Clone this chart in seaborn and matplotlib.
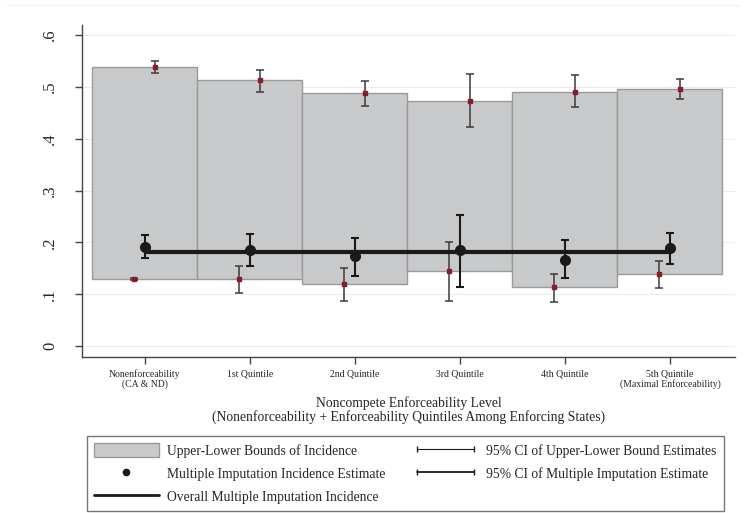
import numpy as np
import pandas as pd
import matplotlib
matplotlib.use("Agg")
import matplotlib.pyplot as plt
import seaborn as sns
from matplotlib.lines import Line2D
from matplotlib.patches import Patch
from matplotlib.legend_handler import HandlerLine2D

# categories on the x axis
categories = ["Nonenforceability\n(CA & ND)", "1st Quintile", "2nd Quintile",
              "3rd Quintile", "4th Quintile", "5th Quintile\n(Maximal Enforceability)"]

# upper / lower bounds of incidence (bar top and bottom)
upper_bound = [0.538, 0.513, 0.488, 0.473, 0.491, 0.495]
lower_bound = [0.129, 0.129, 0.119, 0.144, 0.114, 0.140]
upper_ci_lo = [0.527, 0.490, 0.464, 0.423, 0.461, 0.476]
upper_ci_hi = [0.549, 0.533, 0.512, 0.524, 0.522, 0.516]
lower_ci_lo = [0.127, 0.103, 0.087, 0.088, 0.086, 0.113]
lower_ci_hi = [0.131, 0.155, 0.151, 0.200, 0.139, 0.165]

# multiple imputation estimates
mi_est = [0.192, 0.186, 0.173, 0.185, 0.167, 0.190]
mi_ci_lo = [0.170, 0.155, 0.136, 0.114, 0.131, 0.159]
mi_ci_hi = [0.215, 0.216, 0.209, 0.253, 0.204, 0.219]
overall_mi = 0.181

yticks = [0, 0.1, 0.2, 0.3, 0.4, 0.5, 0.6]
ytick_labels = ["0", ".1", ".2", ".3", ".4", ".5", ".6"]

sns.set_style("white")
plt.rcParams["font.family"] = ["Liberation Serif", "DejaVu Serif"]

df = pd.DataFrame({"level": categories,
                   "height": np.array(upper_bound) - np.array(lower_bound),
                   "bottom": lower_bound})

fig = plt.figure(figsize=(7.44, 5.13), dpi=100)
ax = fig.add_axes([0.110, 0.304, 0.878, 0.647])

# faint outer frame line at the top of the graph region
fig.add_artist(Line2D([0.01, 0.995], [0.99, 0.99], transform=fig.transFigure,
                      color="#eef2f2", linewidth=1))

ax.grid(axis="y", color="#e4eef0", linewidth=0.8)
ax.set_axisbelow(True)

sns.barplot(data=df, x="level", y="height", bottom=df["bottom"], width=1.0,
            color="#c8c9cb", edgecolor="#9a9a9a", linewidth=1.0,
            saturation=1, ax=ax, zorder=2)

xpos = np.arange(len(categories))
off = 0.1

# CIs of upper and lower bound estimates
for xs, est, lo, hi in [(xpos + off, upper_bound, upper_ci_lo, upper_ci_hi),
                        (xpos - off, lower_bound, lower_ci_lo, lower_ci_hi)]:
    est = np.array(est)
    ax.errorbar(xs, est, yerr=[est - np.array(lo), np.array(hi) - est],
                fmt="s", ms=2.3, color="#8b1a2a", ecolor="#3a3a3a",
                elinewidth=1.1, capsize=3.2, capthick=1.1, zorder=4)

# overall line
ax.plot([xpos[0], xpos[-1]], [overall_mi, overall_mi], color="#1a1a1a",
        linewidth=3, zorder=5, solid_capstyle="butt")

mi = np.array(mi_est)
ax.errorbar(xpos, mi, yerr=[mi - np.array(mi_ci_lo), np.array(mi_ci_hi) - mi],
            fmt="o", ms=7, color="#1a1a1a", ecolor="#1a1a1a",
            elinewidth=1.5, capsize=3.2, capthick=1.5, zorder=6)

ax.set_xlim(-0.6, 5.62)
ax.set_ylim(-0.021, 0.619)
ax.set_yticks(yticks)
ax.set_yticklabels(ytick_labels, rotation=90, va="center", fontsize=12)
ax.set_xticks(xpos)
ax.set_xticklabels(categories, fontsize=7, linespacing=1.0)
ax.tick_params(axis="both", direction="out", length=5, width=1, color="#444444",
               left=True, bottom=True)
ax.tick_params(axis="x", pad=4)
ax.tick_params(axis="y", pad=12)
ax.set_ylabel("")
ax.set_xlabel("Noncompete Enforceability Level\n"
              "(Nonenforceability + Enforceability Quintiles Among Enforcing States)",
              fontsize=9.8, labelpad=5, linespacing=1.05)

sns.despine(ax=ax)
for s in ["left", "bottom"]:
    ax.spines[s].set_color("#444444")
    ax.spines[s].set_linewidth(1.0)

# legend
h_bounds = Patch(facecolor="#c8c9cb", edgecolor="#9a9a9a")
h_dot = Line2D([], [], marker="o", ms=4.5, color="#1a1a1a", linestyle="none")
h_line = Line2D([], [], color="#1a1a1a", linewidth=2)
h_ci1 = Line2D([], [], color="#1a1a1a", linewidth=0.8, marker="|", ms=5)
h_ci2 = Line2D([], [], color="#1a1a1a", linewidth=1.3, marker="|", ms=5)

fig.legend([h_bounds, h_dot, h_line, h_ci1, h_ci2],
           ["Upper-Lower Bounds of Incidence",
            "Multiple Imputation Incidence Estimate",
            "Overall Multiple Imputation Incidence",
            "95% CI of Upper-Lower Bound Estimates",
            "95% CI of Multiple Imputation Estimate"],
           handler_map={h_ci1: HandlerLine2D(numpoints=2),
                        h_ci2: HandlerLine2D(numpoints=2)},
           loc="upper left", bbox_to_anchor=(87 / 744, 1 - 436 / 513),
           ncol=2, fontsize=9.8, frameon=True, fancybox=False,
           edgecolor="#555555", handlelength=4.8, handleheight=1.25,
           labelspacing=0.62, handletextpad=0.6, borderpad=0.5,
           columnspacing=2.0, borderaxespad=0)

fig.savefig("out.png", dpi=100, facecolor="white")
